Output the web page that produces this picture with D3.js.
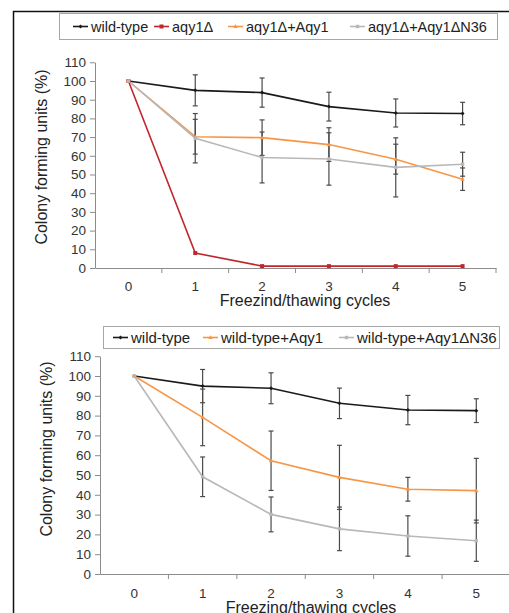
<!DOCTYPE html>
<html><head><meta charset="utf-8">
<script src="https://cdn.jsdelivr.net/npm/d3@7"></script>
<style>body{margin:0;background:#fff}svg{display:block}text{font-family:"Liberation Sans",Arial,sans-serif}</style>
</head><body>
<script>
// ---- data ----
const cycles = ["0","1","2","3","4","5"];
const yTicks = [0,10,20,30,40,50,60,70,80,90,100,110];

const topNames = ["wild-type","aqy1Δ","aqy1Δ+Aqy1","aqy1Δ+Aqy1ΔN36"];
const topWT = [100,95,93.8,86.3,82.9,82.6];
const topWTErr = [0,8.3,7.8,7.7,7.5,6];
const topAqy = [100,8,1,1,1,1];
const topAqyErr = [0,0,0,0,0,0];
const topAqyAqy1 = [100,70.2,69.7,66,58.2,47.5];
const topAqyAqy1Err = [0,9.3,9.5,9,8,6];
const topAqyN36 = [100,69.4,59.1,58.3,53.8,55.5];
const topAqyN36Err = [0,13.2,13.6,14,15.8,6.4];

const botNames = ["wild-type","wild-type+Aqy1","wild-type+Aqy1ΔN36"];
const botWT = [100,94.9,93.8,86.2,82.8,82.5];
const botWTErr = [0,8.4,7.8,7.7,7.4,6];
const botWTAqy1 = [100,79.1,57.2,48.8,42.8,42.1];
const botWTAqy1Err = [0,14.3,15,16.2,6,16.3];
const botWTN36 = [100,49.1,30.1,22.8,19.2,16.8];
const botWTN36Err = [0,10,8.8,11,10.2,10.4];

const xTitleTop = "Freezind/thawing cycles";
const xTitleBot = "Freezing/thawing cycles";
const yTitle = "Colony forming units (%)";

const colors = {wt:"#1a1a1a", red:"#c0262c", orange:"#f79646", gray:"#b8b8b8"};

const W=509,H=613;
const svg=d3.select("body").append("svg").attr("width",W).attr("height",H);

// outer frame
svg.append("path").attr("d",`M13.5,${H}V11.5H${W}`).attr("fill","none").attr("stroke","#111").attr("stroke-width",1.5);

function marker(g, shape, cx, cy, color){
  if(shape==="square"){
    g.append("rect").attr("x",cx-2).attr("y",cy-2).attr("width",4).attr("height",4).attr("fill",color);
  } else if(shape==="smallsq"){
    g.append("rect").attr("x",cx-1.7).attr("y",cy-1.7).attr("width",3.4).attr("height",3.4).attr("fill",color);
  } else if(shape==="tri"){
    g.append("path").attr("d",`M${cx},${cy-2.2}L${cx+2.2},${cy+1.6}L${cx-2.2},${cy+1.6}Z`).attr("fill",color);
  } else {
    g.append("path").attr("d",`M${cx},${cy-2}L${cx+2},${cy}L${cx},${cy+2}L${cx-2},${cy}Z`).attr("fill",color);
  }
}

function chart(opt){
  const x=d3.scaleBand().domain(cycles).range(opt.xr).paddingInner(0).paddingOuter(0);
  const y=d3.scaleLinear().domain([0,110]).range(opt.yr);
  const g=svg.append("g");
  // y axis
  const ya=g.append("g").attr("transform",`translate(${opt.xr[0]},0)`)
    .call(d3.axisLeft(y).tickValues(yTicks).tickSize(5).tickSizeOuter(0).tickPadding(4));
  ya.select(".domain").attr("stroke","#8c8c8c");
  ya.selectAll(".tick line").attr("stroke","#8c8c8c");
  ya.selectAll(".tick text").attr("font-size",13.5).attr("fill","#333").attr("font-family","Liberation Sans, Arial");
  // x axis
  const xa=g.append("g").attr("transform",`translate(0,${opt.yr[0]})`)
    .call(d3.axisBottom(x).tickSize(0).tickSizeOuter(0).tickPadding(opt.xpad));
  xa.select(".domain").attr("stroke","#8c8c8c");
  xa.selectAll(".tick text").attr("font-size",13.5).attr("fill","#333").attr("font-family","Liberation Sans, Arial");
  const bounds=cycles.map(c=>x(c)).concat([x(cycles[cycles.length-1])+x.bandwidth()]);
  g.selectAll("line.xt").data(bounds.slice(1)).enter().append("line")
    .attr("x1",d=>d).attr("x2",d=>d).attr("y1",opt.yr[0]).attr("y2",opt.yr[0]+5).attr("stroke","#8c8c8c");
  // titles
  g.append("text").attr("x",opt.xtx).attr("y",opt.xty).attr("text-anchor","middle").attr("font-size",16).attr("fill","#222").text(opt.xTitle);
  g.append("text").attr("transform",`translate(${opt.ytx},${opt.yty}) rotate(-90)`).attr("text-anchor","middle").attr("font-size",16).attr("fill","#222").text(yTitle);
  const cx=c=>x(c)+x.bandwidth()/2;
  const line=d3.line().x((d,i)=>cx(cycles[i])).y(d=>y(d));
  opt.series.forEach(s=>{
    g.append("path").datum(s.v).attr("d",line).attr("fill","none").attr("stroke",s.c).attr("stroke-width",1.6);
  });
  // error bars
  opt.series.forEach(s=>{
    s.v.forEach((v,i)=>{
      const e=s.e[i]; if(!e) return;
      const px=cx(cycles[i]);
      g.append("line").attr("x1",px).attr("x2",px).attr("y1",y(v+e)).attr("y2",y(v-e)).attr("stroke","#4a4a4a").attr("stroke-width",1.2);
      [v+e,v-e].forEach(t=>g.append("line").attr("x1",px-2.5).attr("x2",px+2.5).attr("y1",y(t)).attr("y2",y(t)).attr("stroke","#4a4a4a").attr("stroke-width",1.2));
    });
  });
  opt.series.forEach(s=>{
    s.v.forEach((v,i)=>marker(g,s.m,cx(cycles[i]),y(v),s.c));
  });
  // legend
  const lg=svg.append("g");
  lg.append("rect").attr("x",opt.lg.x+0.5).attr("y",opt.lg.y+0.5).attr("width",opt.lg.w).attr("height",opt.lg.h)
    .attr("fill","#fff").attr("stroke","#a6a6a6");
  opt.series.forEach((s,i)=>{
    const lx=opt.lg.items[i];
    const ly=opt.lg.y+opt.lg.h/2+0.5;
    lg.append("line").attr("x1",lx).attr("x2",lx+15).attr("y1",ly).attr("y2",ly).attr("stroke",s.c).attr("stroke-width",1.6);
    marker(lg,s.m,lx+7.5,ly,s.c);
    lg.append("text").attr("x",lx+18).attr("y",ly+5).attr("font-size",opt.lg.fs).attr("fill","#222").text(s.name);
  });
}

chart({
  xr:[95,496], yr:[268,62.3], xpad:13,
  xTitle:xTitleTop, xtx:305, xty:306, ytx:47, yty:157,
  series:[
    {name:topNames[0],v:topWT,e:topWTErr,c:colors.wt,m:"diamond"},
    {name:topNames[1],v:topAqy,e:topAqyErr,c:colors.red,m:"square"},
    {name:topNames[2],v:topAqyAqy1,e:topAqyAqy1Err,c:colors.orange,m:"tri"},
    {name:topNames[3],v:topAqyN36,e:topAqyN36Err,c:colors.gray,m:"smallsq"}
  ],
  lg:{x:59,y:13,w:438,h:26,fs:14.5,items:[73,154,228,350]}
});

chart({
  xr:[100,510.5], yr:[574,356.2], xpad:14,
  xTitle:xTitleBot, xtx:311, xty:613, ytx:52, yty:449,
  series:[
    {name:botNames[0],v:botWT,e:botWTErr,c:colors.wt,m:"diamond"},
    {name:botNames[1],v:botWTAqy1,e:botWTAqy1Err,c:colors.orange,m:"tri"},
    {name:botNames[2],v:botWTN36,e:botWTN36Err,c:colors.gray,m:"smallsq"}
  ],
  lg:{x:103,y:326,w:396,h:22,fs:15,items:[113,203,339]}
});
</script>
</body></html>
